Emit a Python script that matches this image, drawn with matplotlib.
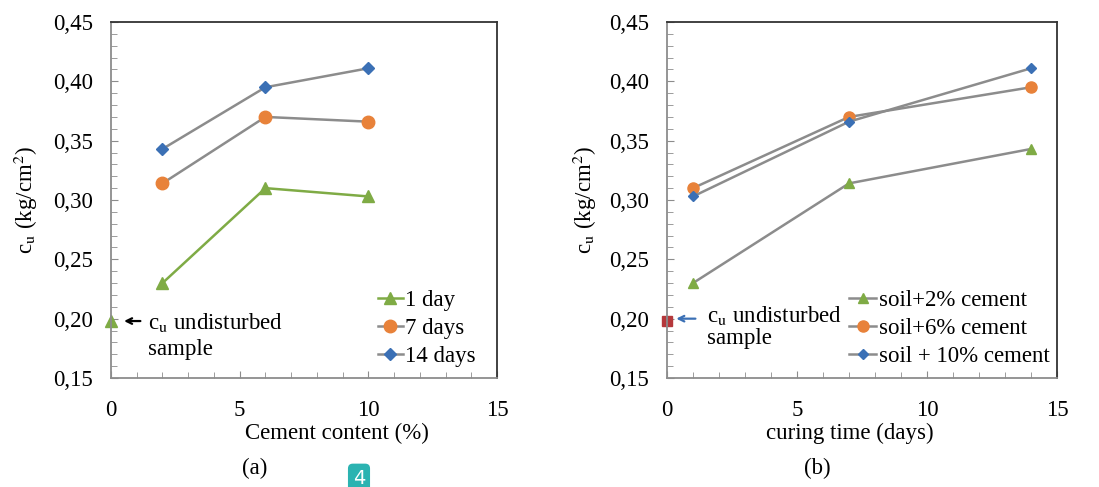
import matplotlib
matplotlib.use("Agg")
import matplotlib.pyplot as plt
from matplotlib.ticker import MultipleLocator, FuncFormatter

plt.rcParams['font.family'] = ['Liberation Serif', 'DejaVu Serif']
plt.rcParams['mathtext.fontset'] = 'stix'

# panel (a): cement content
cement = [2, 6, 10]
a_1day = [0.230, 0.310, 0.303]
a_7days = [0.314, 0.370, 0.366]
a_14days = [0.343, 0.395, 0.411]

# panel (b): curing time
days = [1, 7, 14]
b_2pct = [0.230, 0.314, 0.343]
b_6pct = [0.310, 0.370, 0.395]
b_10pct = [0.303, 0.366, 0.411]

undisturbed = 0.198

green = '#7fab45'
orange = '#e8823a'
blue = '#3b70b5'
grey = '#8c8c8c'
FS = 16.5

fig = plt.figure(figsize=(10.99, 4.87), dpi=100)
ax1 = fig.add_axes([111 / 1099, 1 - 378 / 487, 386 / 1099, 356 / 487])
ax2 = fig.add_axes([667 / 1099, 1 - 378 / 487, 390 / 1099, 356 / 487])

comma = FuncFormatter(lambda v, p: f'{v:.2f}'.replace('.', ','))
ylab = r'c$_\mathrm{u}$ (kg/cm$^2$)'
cu_note = r'c$_\mathrm{u}$ undisturbed' + '\nsample'

def style(ax, xlabel, xlab_x, ylab_x):
    ax.set_xlim(0, 15)
    ax.set_ylim(0.15, 0.45)
    ax.xaxis.set_major_locator(MultipleLocator(5))
    ax.xaxis.set_minor_locator(MultipleLocator(1))
    ax.yaxis.set_major_locator(MultipleLocator(0.05))
    ax.yaxis.set_minor_locator(MultipleLocator(0.01))
    ax.yaxis.set_major_formatter(comma)
    ax.tick_params(which='both', direction='in', color=grey, labelsize=FS)
    ax.tick_params(which='major', length=5)
    ax.tick_params(which='minor', length=4)
    ax.tick_params(axis='x', pad=16)
    ax.tick_params(axis='y', pad=13)
    for s in ['left', 'bottom']:
        ax.spines[s].set_color(grey)
    for s in ['top', 'right']:
        ax.spines[s].set_color('#333333')
    for s in ax.spines.values():
        s.set_linewidth(1.3)
    ax.set_xlabel(xlabel, fontsize=FS)
    ax.xaxis.set_label_coords(xlab_x, -0.125)
    ax.set_ylabel(ylab, fontsize=FS)
    ax.yaxis.set_label_coords(ylab_x, 0.5)

# (a)
ax1.plot(cement, a_1day, color=green, marker='^', ms=8, lw=1.8, label='1 day', clip_on=False)
ax1.plot(cement, a_7days, color=grey, marker='o', ms=9, lw=1.8, mfc=orange, mec=orange, label='7 days', clip_on=False)
ax1.plot(cement, a_14days, color=grey, marker='D', ms=6, lw=1.8, mfc=blue, mec=blue, label='14 days', clip_on=False)
ax1.plot([0], [undisturbed], color=green, marker='^', ms=8, ls='none', clip_on=False)
ax1.annotate('', xy=(0.4, undisturbed), xytext=(1.25, undisturbed),
             arrowprops=dict(arrowstyle='->', color='black', lw=1.6))
ax1.text(1.45, undisturbed + 0.0085, cu_note, fontsize=FS, va='top', ha='left', linespacing=1.3)
style(ax1, 'Cement content (%)', 0.585, -0.185)
ax1.legend(loc='lower right', bbox_to_anchor=(0.975, 0.0), frameon=False, fontsize=FS,
           handlelength=1.1, handletextpad=0.1, labelspacing=0.3, borderaxespad=0.1)

# (b)
ax2.plot(days, b_2pct, color=grey, marker='^', ms=7, lw=1.8, mfc=green, mec=green, label='soil+2% cement', clip_on=False)
ax2.plot(days, b_6pct, color=grey, marker='o', ms=8, lw=1.8, mfc=orange, mec=orange, label='soil+6% cement', clip_on=False)
ax2.plot(days, b_10pct, color=grey, marker='D', ms=5, lw=1.8, mfc=blue, mec=blue, label='soil + 10% cement', clip_on=False)
ax2.plot([0], [undisturbed], color='#b5383b', marker='s', ms=7, ls='none', clip_on=False)
ax2.annotate('', xy=(0.25, 0.2), xytext=(1.2, 0.2),
             arrowprops=dict(arrowstyle='->', color=blue, lw=1.6))
ax2.text(1.55, 0.2 + 0.0125, cu_note, fontsize=FS, va='top', ha='left', linespacing=1.1)
style(ax2, 'curing time (days)', 0.47, -0.175)
ax2.legend(loc='lower right', bbox_to_anchor=(1.01, 0.0), frameon=False, fontsize=FS,
           handlelength=1.2, handletextpad=0.1, labelspacing=0.3, borderaxespad=0.1)

fig.text(255 / 1099, 1 - 468 / 487, '(a)', fontsize=FS, ha='center', va='center')
fig.text(817 / 1099, 1 - 468 / 487, '(b)', fontsize=FS, ha='center', va='center')
fig.text(359 / 1099, 1 - 478 / 487, '4', fontsize=14, ha='center', va='center', color='white',
         family='DejaVu Sans',
         bbox=dict(boxstyle='round,pad=0.25', fc='#2bb3b1', ec='none'))

fig.savefig('out.png', dpi=100)
